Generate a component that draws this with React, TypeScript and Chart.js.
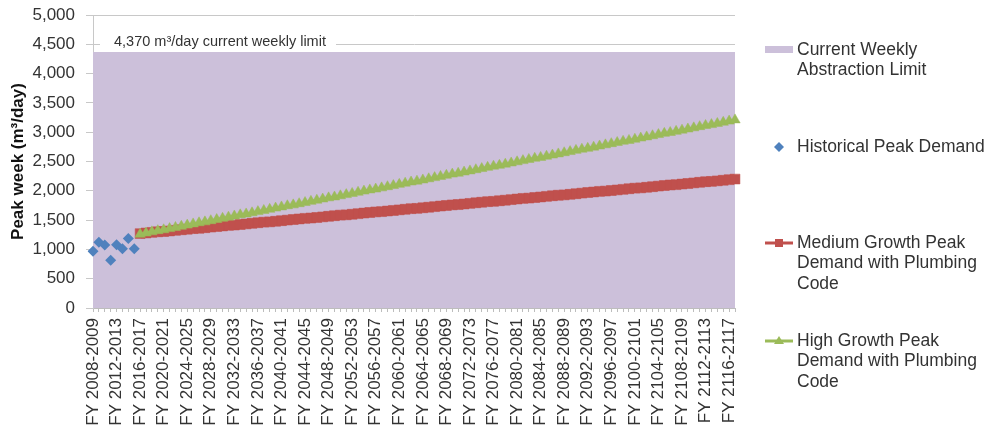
import { useEffect, useRef } from 'react';
import { Chart, registerables } from 'chart.js';

Chart.register(...registerables);

const FONT = "'Liberation Sans', Arial, Helvetica, sans-serif";
const TEXT = '#333333';

// Financial years shown on the category axis
const FIRST_YEAR = 2008;
const YEAR_COUNT = 110;
const categories: string[] = Array.from(
  { length: YEAR_COUNT },
  (_, i) => `FY ${FIRST_YEAR + i}-${FIRST_YEAR + i + 1}`
);
const LABEL_EVERY = 4;

// Weekly abstraction limit (m³/day)
const abstractionLimit = 4370;

// Observed peak-week demand, FY 2008-2009 .. FY 2015-2016
const historicalPeak = [970, 1120, 1075, 815, 1080, 1010, 1185, 1010];

// Projections begin at FY 2016-2017
const projectionStart = 8;

const mediumGrowth = [
  1270, 1280, 1290, 1300, 1305, 1315, 1325, 1335, 1345, 1355,
  1360, 1370, 1380, 1390, 1400, 1410, 1415, 1425, 1435, 1445,
  1455, 1465, 1470, 1480, 1490, 1500, 1510, 1520, 1530, 1535,
  1545, 1555, 1565, 1575, 1585, 1590, 1600, 1610, 1620, 1630,
  1640, 1645, 1655, 1665, 1675, 1685, 1695, 1700, 1710, 1720,
  1730, 1740, 1750, 1760, 1765, 1775, 1785, 1795, 1805, 1815,
  1820, 1830, 1840, 1850, 1860, 1870, 1875, 1885, 1895, 1905,
  1915, 1925, 1930, 1940, 1950, 1960, 1970, 1980, 1990, 1995,
  2005, 2015, 2025, 2035, 2045, 2050, 2060, 2070, 2080, 2090,
  2100, 2105, 2115, 2125, 2135, 2145, 2155, 2160, 2170, 2180,
  2190, 2200,
];

const highGrowth = [
  1260, 1280, 1300, 1320, 1335, 1355, 1375, 1395, 1415, 1435,
  1455, 1470, 1490, 1510, 1530, 1550, 1570, 1590, 1605, 1625,
  1645, 1665, 1685, 1705, 1725, 1745, 1760, 1780, 1800, 1820,
  1840, 1860, 1880, 1895, 1915, 1935, 1955, 1975, 1995, 2015,
  2030, 2050, 2070, 2090, 2110, 2130, 2150, 2165, 2185, 2205,
  2225, 2245, 2265, 2285, 2300, 2320, 2340, 2360, 2380, 2400,
  2420, 2435, 2455, 2475, 2495, 2515, 2535, 2555, 2570, 2590,
  2610, 2630, 2650, 2670, 2690, 2710, 2725, 2745, 2765, 2785,
  2805, 2825, 2845, 2860, 2880, 2900, 2920, 2940, 2960, 2980,
  2995, 3015, 3035, 3055, 3075, 3095, 3115, 3130, 3150, 3170,
  3190, 3210,
];

const Y_MAX = 5000;
const Y_STEP = 500;

const COLORS = {
  limit: '#CCC0DA',
  historical: '#4F81BD',
  medium: '#C0504D',
  high: '#9BBB59',
};

const LEGEND_LABELS = {
  limit: ['Current Weekly', 'Abstraction Limit'],
  historical: ['Historical Peak Demand'],
  medium: ['Medium Growth Peak', 'Demand with Plumbing', 'Code'],
  high: ['High Growth Peak', 'Demand with Plumbing', 'Code'],
};

const LIMIT_NOTE = '4,370 m³/day current weekly limit';

// Padded series aligned to the category axis
const limitSeries = categories.map(() => abstractionLimit);
const historicalSeries = categories.map((_, i) =>
  i < historicalPeak.length ? historicalPeak[i] : null
);
const mediumSeries = categories.map((_, i) =>
  i >= projectionStart ? mediumGrowth[i - projectionStart] ?? null : null
);
const highSeries = categories.map((_, i) =>
  i >= projectionStart ? highGrowth[i - projectionStart] ?? null : null
);

function drawMarker(
  ctx: CanvasRenderingContext2D,
  kind: 'diamond' | 'square' | 'triangle',
  x: number,
  y: number,
  color: string
) {
  ctx.save();
  ctx.fillStyle = color;
  ctx.beginPath();
  if (kind === 'diamond') {
    ctx.moveTo(x, y - 5);
    ctx.lineTo(x + 5, y);
    ctx.lineTo(x, y + 5);
    ctx.lineTo(x - 5, y);
  } else if (kind === 'square') {
    ctx.rect(x - 4, y - 4, 8, 8);
  } else {
    ctx.moveTo(x, y - 5);
    ctx.lineTo(x + 5, y + 3);
    ctx.lineTo(x - 5, y + 3);
  }
  ctx.closePath();
  ctx.fill();
  ctx.restore();
}

const legendPlugin = {
  id: 'sideLegend',
  afterDraw(chart: Chart) {
    const ctx = chart.ctx;
    const textX = 797;
    const lineH = 20.5;
    ctx.save();
    ctx.font = `17.5px ${FONT}`;
    ctx.fillStyle = TEXT;
    ctx.textBaseline = 'middle';
    ctx.textAlign = 'left';

    const writeLines = (lines: string[], y: number) => {
      lines.forEach((t, i) => ctx.fillText(t, textX, y + i * lineH));
    };

    // limit swatch
    ctx.fillStyle = COLORS.limit;
    ctx.fillRect(765, 46, 28, 7);
    ctx.fillStyle = TEXT;
    writeLines(LEGEND_LABELS.limit, 50);

    // historical
    drawMarker(ctx, 'diamond', 779, 147, COLORS.historical);
    ctx.fillStyle = TEXT;
    writeLines(LEGEND_LABELS.historical, 147);

    // medium growth
    ctx.strokeStyle = COLORS.medium;
    ctx.lineWidth = 3;
    ctx.beginPath();
    ctx.moveTo(765, 243);
    ctx.lineTo(793, 243);
    ctx.stroke();
    drawMarker(ctx, 'square', 779, 243, COLORS.medium);
    ctx.fillStyle = TEXT;
    writeLines(LEGEND_LABELS.medium, 243);

    // high growth
    ctx.strokeStyle = COLORS.high;
    ctx.beginPath();
    ctx.moveTo(765, 341);
    ctx.lineTo(793, 341);
    ctx.stroke();
    drawMarker(ctx, 'triangle', 779, 341, COLORS.high);
    ctx.fillStyle = TEXT;
    writeLines(LEGEND_LABELS.high, 341);
    ctx.restore();
  },
};

const limitNotePlugin = {
  id: 'limitNote',
  afterDatasetsDraw(chart: Chart) {
    const ctx = chart.ctx;
    ctx.save();
    ctx.fillStyle = '#ffffff';
    ctx.fillRect(100, 34, 236, 16);
    ctx.font = `14.5px ${FONT}`;
    ctx.fillStyle = TEXT;
    ctx.textBaseline = 'middle';
    ctx.textAlign = 'left';
    ctx.fillText(LIMIT_NOTE, 114, 42);
    ctx.restore();
  },
};

export default function App() {
  const canvasRef = useRef<HTMLCanvasElement | null>(null);

  useEffect(() => {
    const canvas = canvasRef.current;
    if (!canvas) return;
    const chart = new Chart(canvas, {
      type: 'line',
      data: {
        labels: categories,
        datasets: [
          {
            label: 'High Growth Peak Demand with Plumbing Code',
            data: highSeries,
            order: 0,
            borderColor: COLORS.high,
            backgroundColor: COLORS.high,
            borderWidth: 2.5,
            pointStyle: 'triangle',
            pointRadius: 6,
            pointBorderWidth: 0.5,
            pointBorderColor: COLORS.high,
            pointBackgroundColor: COLORS.high,
            fill: false,
          },
          {
            label: 'Medium Growth Peak Demand with Plumbing Code',
            data: mediumSeries,
            order: 1,
            borderColor: COLORS.medium,
            backgroundColor: COLORS.medium,
            borderWidth: 2.5,
            pointStyle: 'rect',
            pointRadius: 7,
            pointBorderWidth: 0.5,
            pointBorderColor: COLORS.medium,
            pointBackgroundColor: COLORS.medium,
            fill: false,
          },
          {
            label: 'Historical Peak Demand',
            data: historicalSeries,
            order: 2,
            showLine: false,
            borderColor: COLORS.historical,
            backgroundColor: COLORS.historical,
            pointStyle: 'rectRot',
            pointRadius: 5.5,
            pointBorderWidth: 0,
            fill: false,
          },
          {
            label: 'Current Weekly Abstraction Limit',
            data: limitSeries,
            order: 3,
            borderWidth: 0,
            borderColor: COLORS.limit,
            backgroundColor: COLORS.limit,
            pointRadius: 0,
            fill: 'origin',
          },
        ],
      },
      options: {
        responsive: false,
        animation: false,
        devicePixelRatio: 1,
        layout: { padding: { top: 15, right: 254, left: 0, bottom: 0 } },
        plugins: {
          legend: { display: false },
          tooltip: { enabled: false },
        },
        scales: {
          x: {
            type: 'category',
            offset: false,
            afterFit: (s: any) => {
              s.height = 126;
            },
            grid: {
              drawOnChartArea: false,
              drawTicks: true,
              tickLength: 4,
              color: '#bdbdbd',
              offset: false,
            },
            border: { color: '#bdbdbd' },
            ticks: {
              autoSkip: false,
              minRotation: 90,
              maxRotation: 90,
              padding: 6,
              color: TEXT,
              font: { family: FONT, size: 17 },
              callback: (_v: any, i: number) =>
                i % LABEL_EVERY === 0 ? categories[i] : '',
            },
          },
          y: {
            min: 0,
            max: Y_MAX,
            afterFit: (s: any) => {
              s.width = 93;
            },
            grid: {
              color: '#c8c8c8',
              tickLength: 7,
              drawTicks: true,
            },
            border: { color: '#c8c8c8' },
            ticks: {
              stepSize: Y_STEP,
              padding: 11,
              color: TEXT,
              font: { family: FONT, size: 17, lineHeight: 0.3 },
              callback: (v: any) => Number(v).toLocaleString('en-US'),
            },
            title: {
              display: true,
              text: 'Peak week (m³/day)',
              color: '#111111',
              font: { family: FONT, size: 17, weight: 'bold' },
              padding: { top: 8, bottom: 0 },
            },
          },
        },
      },
      plugins: [limitNotePlugin, legendPlugin],
    });
    return () => chart.destroy();
  }, []);

  return (
    <div
      style={{
        position: 'fixed',
        left: 0,
        top: 0,
        width: 989,
        height: 434,
        background: '#ffffff',
      }}
    >
      <canvas
        ref={canvasRef}
        width={989}
        height={434}
        style={{ width: 989, height: 434, display: 'block' }}
      />
    </div>
  );
}
